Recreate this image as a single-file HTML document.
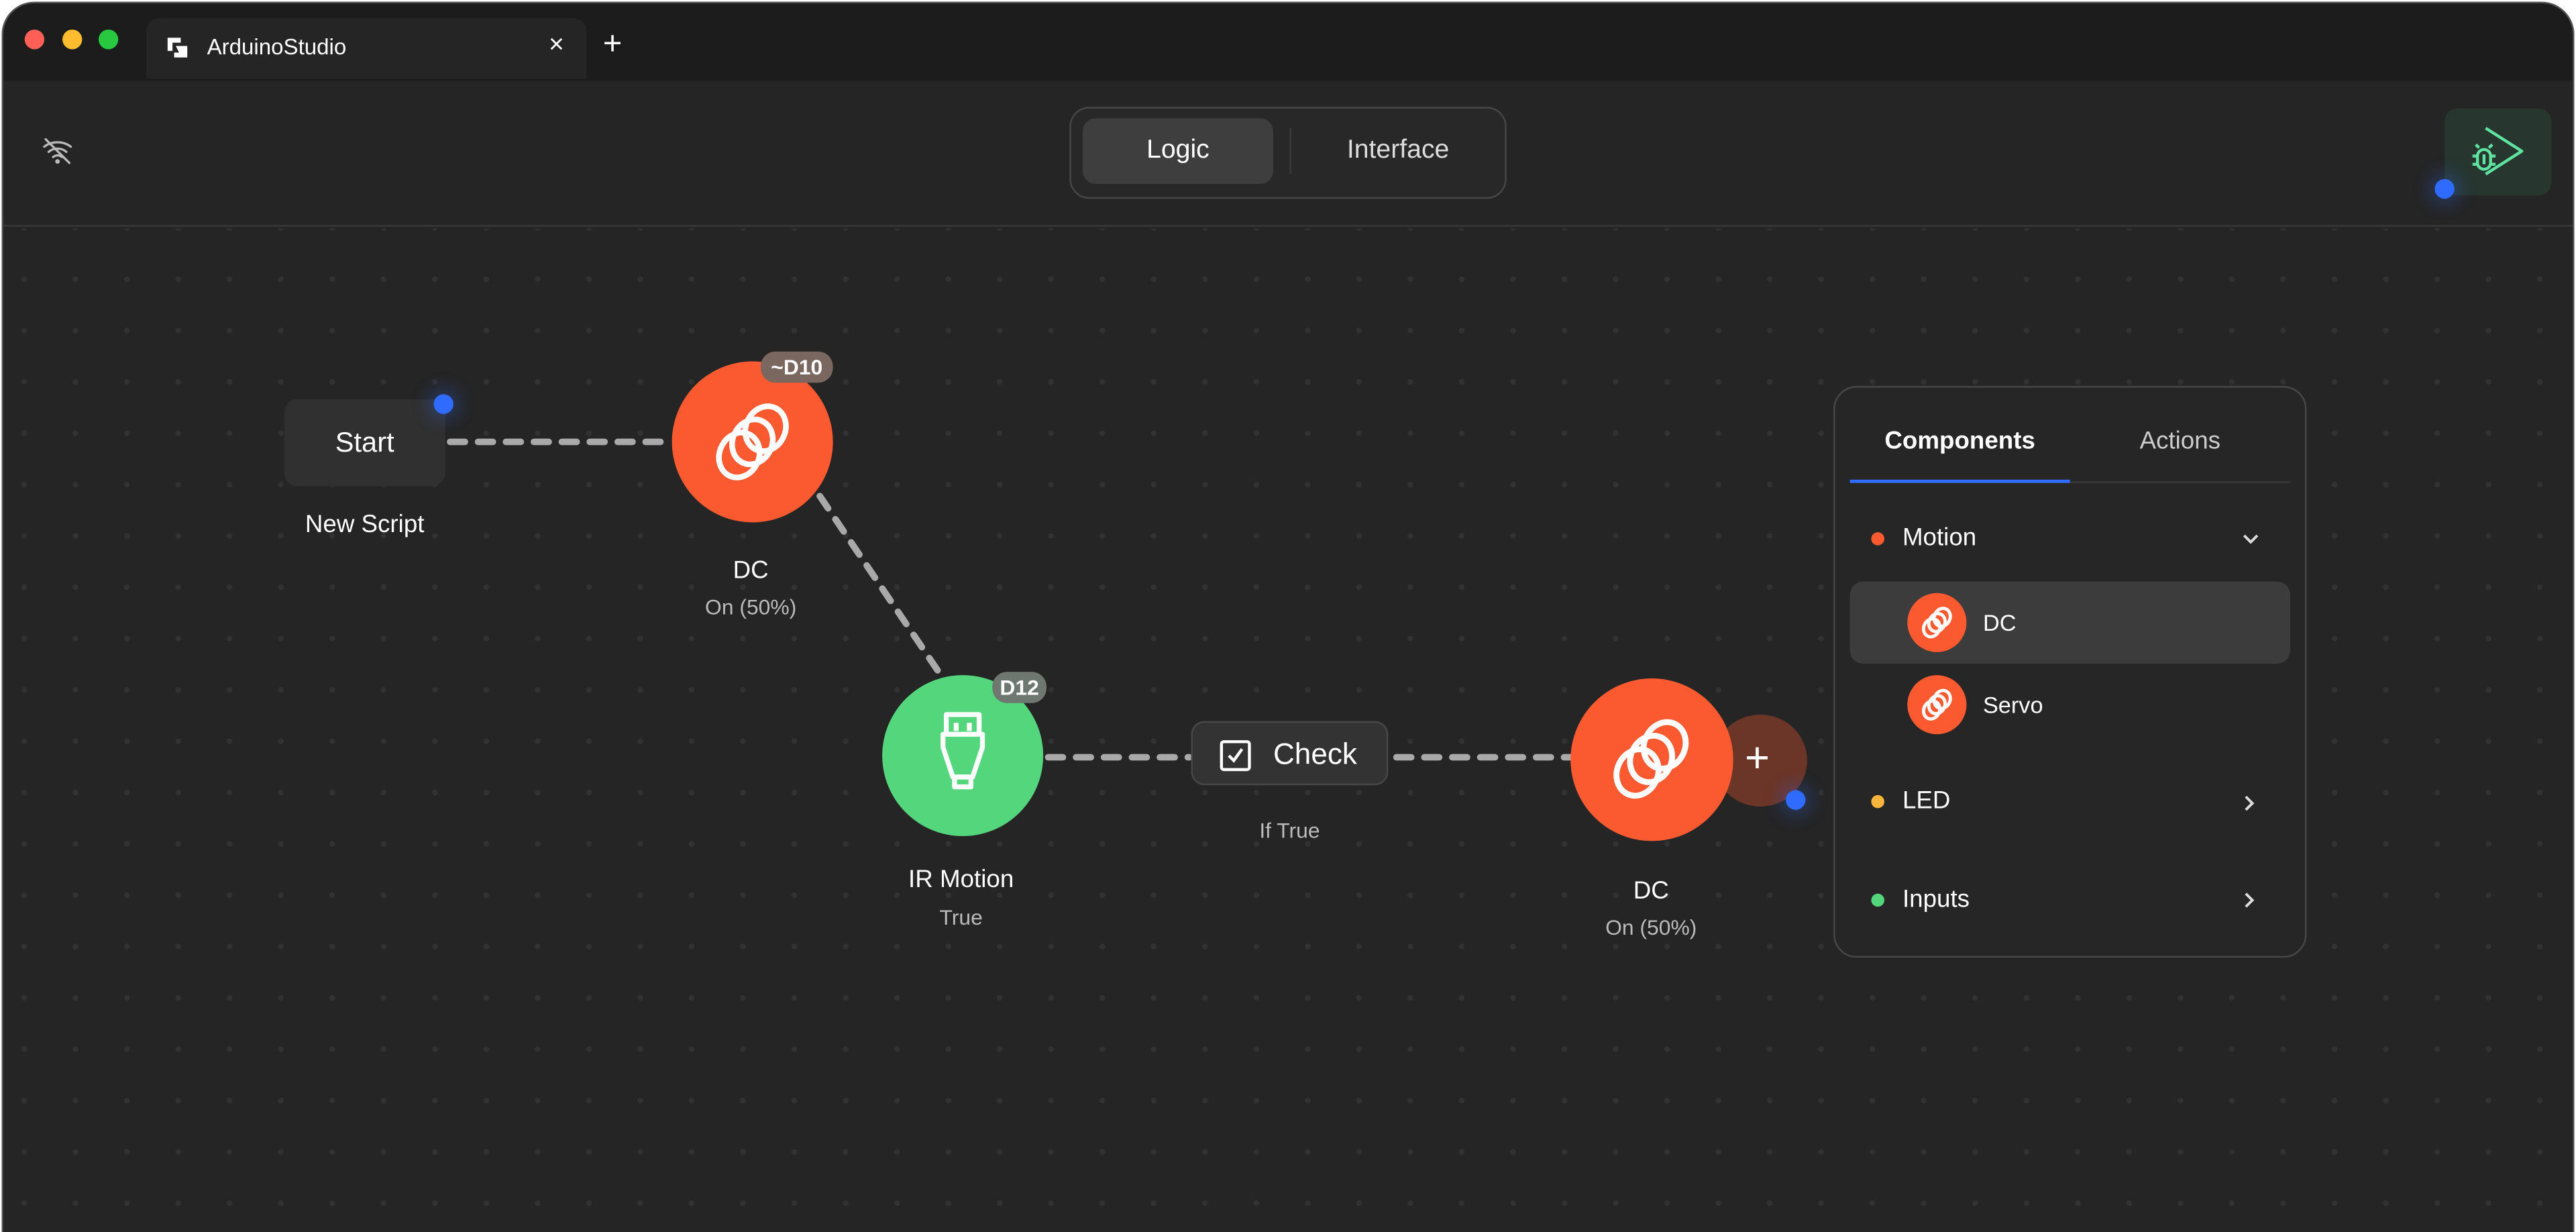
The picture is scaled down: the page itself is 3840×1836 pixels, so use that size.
<!DOCTYPE html>
<html><head><meta charset="utf-8"><style>
html,body{margin:0;padding:0;background:#fff;width:3840px;height:1836px;overflow:hidden;position:relative}
#w{position:absolute;left:0;top:0;width:3840px;height:1836px;overflow:hidden}
#s{position:absolute;left:0;top:0;width:1568px;height:750px;transform:scale(2.449,2.448);transform-origin:0 0;font-family:"Liberation Sans",sans-serif;color:#fff;overflow:hidden}
.a{position:absolute}
.win{left:1px;top:1px;width:1566px;height:749px;border-radius:20px 20px 0 0;background:#1c1c1c;overflow:hidden;border:1px solid #555;border-bottom:none;box-sizing:border-box}
.main{left:0;top:47px;width:1568px;height:710px;background:#252525}
.canvas{left:0;top:137px;width:1568px;height:620px;background-color:#252525;background-image:radial-gradient(circle,#323232 1.5px,transparent 1.9px);background-size:31.25px 31.25px;background-position:-2.9px -15.9px}
.c{text-align:center;transform:translateX(-50%);white-space:nowrap}
.dot{border-radius:50%}
.blue{background:#2f6bff;box-shadow:0 0 10px 4px rgba(47,107,255,.25);width:12px;height:12px;border-radius:50%}
</style></head><body><div id="w"><div id="s">
<div class="a win">
 <div class="a main"></div>
 <div class="a canvas"></div>
 <div class="a" style="left:0;top:135px;width:1568px;height:1px;background:#383838"></div>
</div>
<div class="a dot" style="left:15px;top:18px;width:12px;height:12px;background:#ff5f57"></div>
<div class="a dot" style="left:38px;top:18px;width:12px;height:12px;background:#febc2e"></div>
<div class="a dot" style="left:60px;top:18px;width:12px;height:12px;background:#28c840"></div>
<div class="a" style="left:89px;top:11px;width:268px;height:37px;background:#252525;border-radius:8px 8px 0 0"></div>
<svg class="a" style="left:101px;top:22px" width="14" height="14" viewBox="0 0 14 14"><path d="M1 1h8v3H4v5H1z" fill="#fff"/><path d="M6 6h7v7H5v-3h3z" fill="#fff"/></svg>
<div class="a" style="left:126px;top:21px;font-size:13.5px">ArduinoStudio</div>
<div class="a" style="left:334px;top:19px;font-size:16px">×</div>
<div class="a" style="left:367px;top:16px;font-size:20px;font-weight:300">+</div>
<svg class="a" style="left:25px;top:83px" width="20" height="18" viewBox="0 0 22 20" fill="none" stroke="#bbb" stroke-width="1.5" stroke-linecap="round"><path d="M2 7c5-4 13-4 18 0M5 10.5c3.5-3 8.5-3 12 0M8 14c2-1.5 4-1.5 6 0"/><path d="M3 2l16 16"/><circle cx="11" cy="17" r="0.8" fill="#bbb"/></svg>
<div class="a" style="left:651px;top:65px;width:264px;height:54px;border:1px solid #474747;border-radius:12px;background:#282828"></div>
<div class="a" style="left:659px;top:72px;width:116px;height:40px;background:#3e3e3e;border-radius:8px"></div>
<div class="a" style="left:785px;top:78px;width:1px;height:28px;background:#3a3a3a"></div>
<div class="a c" style="left:717px;top:83px;font-size:16px">Logic</div>
<div class="a c" style="left:851px;top:83px;font-size:16px;color:#ddd">Interface</div>
<div class="a" style="left:1488px;top:66px;width:65px;height:53px;background:#27362f;border-radius:8px"></div>
<svg class="a" style="left:1500px;top:74px" width="40" height="36" viewBox="0 0 40 36" fill="none" stroke="#5fe3a1" stroke-width="1.8" stroke-linejoin="round"><path d="M13 4l22 14-22 14"/><rect x="8" y="17" width="8" height="12" rx="4"/><path d="M12 20v6M5 21h3M16 21h3M5 26h3M16 26h3M9 16l-2-2M15 16l2-2"/></svg>
<div class="a blue" style="left:1482px;top:109px"></div>
<svg class="a" style="left:0;top:0" width="1568" height="750" fill="none" stroke="#a9a9a9" stroke-width="4" stroke-linecap="round" stroke-dasharray="9 8">
<path d="M274 269H406"/><path d="M499 302L572 410"/><path d="M638 461H724"/><path d="M850 461H956"/>
</svg>
<div class="a" style="left:173px;top:243px;width:98px;height:53px;background:#303030;border-radius:8px"></div>
<div class="a c" style="left:222px;top:260px;font-size:17px">Start</div>
<div class="a blue" style="left:264px;top:240px"></div>
<div class="a c" style="left:222px;top:311px;font-size:15px">New Script</div>
<div class="a dot" style="left:409px;top:220px;width:98px;height:98px;background:#fb5a31"></div>
<svg class="a" style="left:428px;top:239px" width="60" height="60" viewBox="0 0 60 60" fill="none" stroke="#fff" stroke-width="3.5"><ellipse cx="22" cy="38" rx="12" ry="14" transform="rotate(25 22 38)"/><ellipse cx="30" cy="30" rx="12" ry="14" transform="rotate(25 30 30)"/><ellipse cx="38" cy="22" rx="12" ry="14" transform="rotate(25 38 22)"/></svg>
<div class="a" style="left:463px;top:214px;width:44px;height:19px;background:#7a6860;border-radius:9px;font-size:13px;font-weight:bold;text-align:center;line-height:19px">~D10</div>
<div class="a c" style="left:457px;top:339px;font-size:15px">DC</div>
<div class="a c" style="left:457px;top:362px;font-size:13px;color:#bbb">On (50%)</div>
<div class="a dot" style="left:537px;top:411px;width:98px;height:98px;background:#54d67c"></div>
<svg class="a" style="left:566px;top:432px" width="40" height="52" viewBox="0 0 40 52" fill="none" stroke="#fff" stroke-width="3" stroke-linejoin="round"><path d="M10 3h20v12H10zM16 8v5M24 8v5M8 15h24v8l-6 18h-12l-6-18z"/><path d="M15 41v6h10v-6"/></svg>
<div class="a" style="left:604px;top:409px;width:33px;height:19px;background:#6e7770;border-radius:9px;font-size:13px;font-weight:bold;text-align:center;line-height:19px">D12</div>
<div class="a c" style="left:585px;top:527px;font-size:15px">IR Motion</div>
<div class="a c" style="left:585px;top:551px;font-size:13px;color:#bbb">True</div>
<div class="a" style="left:725px;top:439px;width:120px;height:39px;background:#333;border:1px solid #474747;border-radius:8px;box-sizing:border-box"></div>
<svg class="a" style="left:742px;top:450px" width="20" height="20" viewBox="0 0 20 20" fill="none" stroke="#fff" stroke-width="1.8"><rect x="1.5" y="1.5" width="17" height="17" rx="1.5"/><path d="M6 10l3 3 5-7"/></svg>
<div class="a" style="left:775px;top:449px;font-size:18px">Check</div>
<div class="a c" style="left:785px;top:498px;font-size:13px;color:#bbb">If True</div>
<div class="a dot" style="left:1043px;top:435px;width:57px;height:56px;background:#6b3527"></div>
<div class="a" style="left:1062px;top:446px;font-size:26px;font-weight:300">+</div>
<div class="a dot" style="left:956px;top:413px;width:99px;height:99px;background:#fb5a31"></div>
<svg class="a" style="left:974px;top:431px" width="62" height="62" viewBox="0 0 60 60" fill="none" stroke="#fff" stroke-width="3.5"><ellipse cx="22" cy="38" rx="12" ry="14" transform="rotate(25 22 38)"/><ellipse cx="30" cy="30" rx="12" ry="14" transform="rotate(25 30 30)"/><ellipse cx="38" cy="22" rx="12" ry="14" transform="rotate(25 38 22)"/></svg>
<div class="a blue" style="left:1087px;top:481px"></div>
<div class="a c" style="left:1005px;top:534px;font-size:15px">DC</div>
<div class="a c" style="left:1005px;top:557px;font-size:13px;color:#bbb">On (50%)</div>
<div class="a" style="left:1116px;top:235px;width:288px;height:348px;background:#262626;border:1px solid #474747;border-radius:14px;box-sizing:border-box"></div>
<div class="a c" style="left:1193px;top:260px;font-size:15px;font-weight:bold">Components</div>
<div class="a c" style="left:1327px;top:260px;font-size:15px;color:#ccc">Actions</div>
<div class="a" style="left:1126px;top:293px;width:268px;height:1px;background:#3a3a3a"></div>
<div class="a" style="left:1126px;top:292px;width:134px;height:2px;background:#2f6bff"></div>
<div class="a dot" style="left:1139px;top:324px;width:8px;height:8px;background:#fb5a31"></div>
<div class="a" style="left:1158px;top:319px;font-size:15px">Motion</div>
<svg class="a" style="left:1364px;top:324px" width="12" height="8" viewBox="0 0 12 8" fill="none" stroke="#ddd" stroke-width="1.6"><path d="M2 2l4 4 4-4"/></svg>
<div class="a" style="left:1126px;top:354px;width:268px;height:50px;background:#3c3c3c;border-radius:8px"></div>
<div class="a dot" style="left:1161px;top:361px;width:36px;height:36px;background:#fb5a31"></div>
<svg class="a" style="left:1167px;top:367px" width="24" height="24" viewBox="0 0 60 60" fill="none" stroke="#fff" stroke-width="5"><ellipse cx="22" cy="38" rx="12" ry="14" transform="rotate(25 22 38)"/><ellipse cx="30" cy="30" rx="12" ry="14" transform="rotate(25 30 30)"/><ellipse cx="38" cy="22" rx="12" ry="14" transform="rotate(25 38 22)"/></svg>
<div class="a" style="left:1207px;top:371px;font-size:14px">DC</div>
<div class="a dot" style="left:1161px;top:411px;width:36px;height:36px;background:#fb5a31"></div>
<svg class="a" style="left:1167px;top:417px" width="24" height="24" viewBox="0 0 60 60" fill="none" stroke="#fff" stroke-width="5"><ellipse cx="22" cy="38" rx="12" ry="14" transform="rotate(25 22 38)"/><ellipse cx="30" cy="30" rx="12" ry="14" transform="rotate(25 30 30)"/><ellipse cx="38" cy="22" rx="12" ry="14" transform="rotate(25 38 22)"/></svg>
<div class="a" style="left:1207px;top:421px;font-size:14px">Servo</div>
<div class="a dot" style="left:1139px;top:484px;width:8px;height:8px;background:#f7b53c"></div>
<div class="a" style="left:1158px;top:479px;font-size:15px">LED</div>
<svg class="a" style="left:1365px;top:483px" width="8" height="12" viewBox="0 0 8 12" fill="none" stroke="#ddd" stroke-width="1.6"><path d="M2 2l4 4-4 4"/></svg>
<div class="a dot" style="left:1139px;top:544px;width:8px;height:8px;background:#54d67c"></div>
<div class="a" style="left:1158px;top:539px;font-size:15px">Inputs</div>
<svg class="a" style="left:1365px;top:542px" width="8" height="12" viewBox="0 0 8 12" fill="none" stroke="#ddd" stroke-width="1.6"><path d="M2 2l4 4-4 4"/></svg>
</div></div></body></html>
